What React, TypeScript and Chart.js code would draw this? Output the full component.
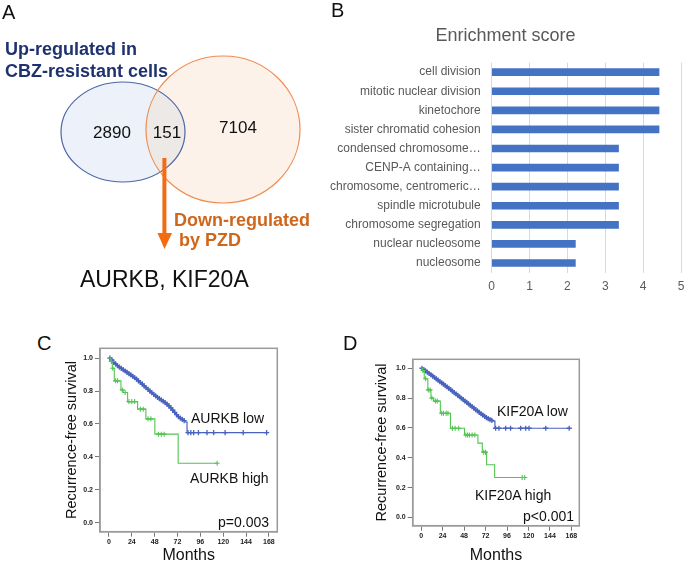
import React, { useEffect, useRef } from "react";
import { Chart, registerables } from "chart.js";
Chart.register(...registerables);

const FONT = '"Liberation Sans", Arial, Helvetica, sans-serif';
Chart.defaults.font.family = FONT;

// ---------- Panel A data ----------
const vennCounts = [2890, 151, 7104]; // left only, overlap, right only
const vennHeader = ["Up-regulated in", "CBZ-resistant cells"];
const arrowLabel = ["Down-regulated", "by PZD"];
const geneResult = "AURKB, KIF20A";

// ---------- Panel B data ----------
const goTerms = [
  "cell division",
  "mitotic nuclear division",
  "kinetochore",
  "sister chromatid cohesion",
  "condensed chromosome…",
  "CENP-A containing…",
  "chromosome, centromeric…",
  "spindle microtubule",
  "chromosome segregation",
  "nuclear nucleosome",
  "nucleosome",
];
const enrichmentScores = [4.42, 4.42, 4.42, 4.42, 3.35, 3.35, 3.35, 3.35, 3.35, 2.21, 2.21];
const enrichmentTicks = [0, 1, 2, 3, 4, 5];

// ---------- Panels C / D data ----------
const kmMonthTicks = [0, 24, 48, 72, 96, 120, 144, 168];
const kmSurvTicks = [0, 0.2, 0.4, 0.6, 0.8, 1.0];

const aurkbLowMonths = [0, 2, 4, 6, 8, 10, 12, 14, 16, 18, 20, 22, 24, 26, 28, 30, 32, 34, 36, 38, 40, 42, 44, 46, 48, 50, 52, 54, 56, 58, 60, 62, 64, 66, 68, 70, 72, 74, 76, 78, 80, 82];
const aurkbLowSurv = [1.0, 0.99, 0.975, 0.965, 0.955, 0.946, 0.938, 0.93, 0.922, 0.914, 0.906, 0.898, 0.89, 0.881, 0.872, 0.862, 0.852, 0.842, 0.832, 0.821, 0.81, 0.8, 0.79, 0.78, 0.771, 0.762, 0.754, 0.746, 0.738, 0.73, 0.72, 0.71, 0.698, 0.684, 0.67, 0.657, 0.645, 0.636, 0.628, 0.62, 0.612, 0.547];
const aurkbLowCensor = [1, 3, 5, 7, 9, 11, 13, 15, 17, 19, 21, 23, 25, 27, 29, 31, 33, 35, 37, 39, 41, 43, 45, 47, 49, 51, 53, 55, 57, 59, 61, 63, 65, 67, 69, 71, 73, 75, 77, 79, 83, 86, 89, 94, 103, 110, 122, 141, 165.6];

const aurkbHighMonths = [0, 2, 3.5, 5.6, 12.6, 15, 19.6, 30.1, 38.8, 48.2, 72.7];
const aurkbHighSurv = [1.0, 0.98, 0.939, 0.862, 0.807, 0.791, 0.736, 0.69, 0.631, 0.538, 0.361];
const aurkbHighCensor = [2.5, 4, 7, 9, 14, 17, 21, 24, 27, 33, 36, 41, 44, 52, 55, 58, 113.6];

const kif20aLowMonths = [0, 2, 4, 6, 8, 10, 12, 14, 16, 18, 20, 22, 24, 26, 28, 30, 32, 34, 36, 38, 40, 42, 44, 46, 48, 50, 52, 54, 56, 58, 60, 62, 64, 66, 68, 70, 72, 74, 76, 78, 80, 82.5];
const kif20aLowSurv = [1.0, 0.99, 0.982, 0.974, 0.965, 0.956, 0.947, 0.938, 0.929, 0.92, 0.911, 0.902, 0.893, 0.884, 0.875, 0.866, 0.856, 0.847, 0.837, 0.828, 0.818, 0.809, 0.799, 0.79, 0.78, 0.771, 0.761, 0.752, 0.742, 0.733, 0.723, 0.714, 0.704, 0.695, 0.686, 0.677, 0.669, 0.662, 0.656, 0.651, 0.646, 0.598];
const kif20aLowCensor = [1, 3, 5, 7, 9, 11, 13, 15, 17, 19, 21, 23, 25, 27, 29, 31, 33, 35, 37, 39, 41, 43, 45, 47, 49, 51, 53, 55, 57, 59, 61, 63, 65, 67, 69, 71, 73, 75, 77, 79, 83.3, 87, 94.5, 100, 111.3, 116.9, 120.6, 139.3, 165.5];

const kif20aHighMonths = [0, 1.5, 3.5, 7.5, 11, 14, 21.5, 32.8, 48.5, 63.5, 68.4, 73.2, 82.2];
const kif20aHighSurv = [1.0, 0.985, 0.93, 0.855, 0.8, 0.78, 0.698, 0.598, 0.553, 0.498, 0.438, 0.353, 0.268];
const kif20aHighCensor = [2, 5, 8, 10, 12, 16, 18, 23, 25, 28, 30, 35, 38, 42, 50, 52, 54, 57, 60, 70, 72, 113, 115.8];

// ---------- helpers ----------
function survAt(times: number[], surv: number[], t: number) {
  let v = surv[0];
  for (let i = 0; i < times.length; i++) if (times[i] <= t) v = surv[i];
  return v;
}
function curvePoints(times: number[], surv: number[], censor: number[]) {
  const pts = times.map((t, i) => ({ x: t, y: surv[i] }));
  const last = censor[censor.length - 1];
  if (last > times[times.length - 1]) pts.push({ x: last, y: surv[surv.length - 1] });
  return pts;
}
function censorPoints(times: number[], surv: number[], censor: number[]) {
  return censor.map((t) => ({ x: t, y: survAt(times, surv, t) }));
}

function ChartBox(props: { left: number; top: number; width: number; height: number; make: () => any }) {
  const ref = useRef<HTMLCanvasElement>(null);
  useEffect(() => {
    const chart = new Chart(ref.current as HTMLCanvasElement, props.make());
    return () => chart.destroy();
  }, []);
  const { left, top, width, height } = props;
  return (
    <div style={{ position: "absolute", left, top, width, height }}>
      <canvas ref={ref} width={width} height={height} style={{ width, height, display: "block" }} />
    </div>
  );
}

function Txt(props: { x: number; cy: number; size: number; color?: string; bold?: boolean; children: any }) {
  const { x, cy, size, color, bold } = props;
  return (
    <div
      style={{
        position: "absolute",
        left: x,
        top: cy - 0.59 * size,
        fontSize: size,
        lineHeight: `${size * 1.2}px`,
        fontWeight: bold ? 700 : 400,
        color: color || "#111",
        whiteSpace: "nowrap",
        fontFamily: FONT,
      }}
    >
      {props.children}
    </div>
  );
}

// ---------- Panel A (Venn) ----------
const vennPlugin = {
  id: "venn",
  afterDraw(chart: any) {
    const { ctx, scales } = chart;
    const sx = scales.x, sy = scales.y;
    const px = (v: number) => sx.getPixelForValue(v);
    const py = (v: number) => sy.getPixelForValue(v);
    const L = { cx: 123, cy: 132, rx: 62, ry: 50 };
    const R = { cx: 223, cy: 129.5, rx: 77, ry: 73.5 };
    const path = (e: any) => {
      ctx.beginPath();
      ctx.ellipse(px(e.cx), py(e.cy), Math.abs(px(e.cx + e.rx) - px(e.cx)), Math.abs(py(e.cy + e.ry) - py(e.cy)), 0, 0, Math.PI * 2);
    };
    ctx.save();
    path(L); ctx.fillStyle = "#edf2fa"; ctx.fill();
    path(R); ctx.fillStyle = "#fdf2ea"; ctx.fill();
    ctx.save(); path(L); ctx.clip(); path(R); ctx.fillStyle = "#ece9e6"; ctx.fill(); ctx.restore();
    ctx.lineWidth = 1.2;
    path(L); ctx.strokeStyle = "#4a66a3"; ctx.stroke();
    path(R); ctx.strokeStyle = "#f08c50"; ctx.stroke();

    // counts
    ctx.fillStyle = "#111";
    ctx.font = `17px ${FONT}`;
    ctx.textAlign = "center";
    ctx.textBaseline = "middle";
    const pos = [[112, 133], [167, 133], [238, 128]];
    vennCounts.forEach((c, i) => ctx.fillText(String(c), px(pos[i][0]), py(pos[i][1])));

    // arrow
    ctx.fillStyle = "#f36c12";
    ctx.fillRect(px(162.4), py(158), px(166.4) - px(162.4), py(234) - py(158));
    ctx.beginPath();
    ctx.moveTo(px(157.5), py(233));
    ctx.lineTo(px(172), py(233));
    ctx.lineTo(px(164.5), py(249));
    ctx.closePath();
    ctx.fill();
    ctx.restore();
  },
};

function makeVenn() {
  return {
    type: "scatter",
    data: { datasets: [{ data: [] as any[] }] },
    options: {
      animation: false,
      responsive: false,
      events: [],
      layout: { padding: 0 },
      plugins: { legend: { display: false }, tooltip: { enabled: false } },
      scales: {
        x: { display: false, min: 0, max: 330 },
        y: { display: false, min: 0, max: 300, reverse: true },
      },
    },
    plugins: [vennPlugin],
  };
}

// ---------- Panel B ----------
function makeBars() {
  return {
    type: "bar",
    data: {
      labels: goTerms,
      datasets: [{ data: enrichmentScores, backgroundColor: "#4472c4", barThickness: 7 }],
    },
    options: {
      indexAxis: "y",
      animation: false,
      responsive: false,
      events: [],
      layout: { padding: { left: 0, right: 22, top: 0, bottom: 0 } },
      plugins: {
        legend: { display: false },
        tooltip: { enabled: false },
        title: {
          display: true,
          text: "Enrichment score",
          color: "#595959",
          font: { size: 18, weight: "normal" },
          padding: { top: 5, bottom: 16 },
        },
      },
      scales: {
        x: {
          min: 0,
          max: 5,
          afterBuildTicks: (s: any) => { s.ticks = enrichmentTicks.map((v) => ({ value: v })); },
          ticks: { color: "#595959", font: { size: 12 }, padding: 7 },
          grid: { color: "#d9d9d9", drawTicks: false },
          border: { display: false },
          afterFit: (s: any) => { s.height = 27.45; },
        },
        y: {
          ticks: { color: "#595959", font: { size: 12 }, padding: 11, autoSkip: false },
          grid: { display: false, drawTicks: false },
          border: { display: false },
          afterFit: (s: any) => { s.width = 161.7; },
        },
      },
    },
  };
}

// ---------- Panels C / D ----------
const framePlugin = {
  id: "frame",
  afterDraw(chart: any) {
    const { ctx, chartArea } = chart;
    ctx.save();
    ctx.strokeStyle = "#9a9a9a";
    ctx.lineWidth = 1.5;
    ctx.strokeRect(chartArea.left, chartArea.top, chartArea.right - chartArea.left, chartArea.bottom - chartArea.top);
    ctx.restore();
  },
};

function makeKM(o: {
  lowT: number[]; lowS: number[]; lowC: number[];
  highT: number[]; highS: number[]; highC: number[];
  yWidth: number; xHeight: number; pad: any;
}) {
  const blue = "#4862bd";
  const green = "#52c452";
  return {
    type: "line",
    data: {
      datasets: [
        { data: curvePoints(o.highT, o.highS, o.highC), stepped: "before", borderColor: green, borderWidth: 1.1, pointRadius: 0, fill: false },
        { data: censorPoints(o.highT, o.highS, o.highC), showLine: false, pointStyle: "cross", pointRadius: 2.5, borderColor: green, borderWidth: 1.1 },
        { data: curvePoints(o.lowT, o.lowS, o.lowC), stepped: "before", borderColor: blue, borderWidth: 1.2, pointRadius: 0, fill: false },
        { data: censorPoints(o.lowT, o.lowS, o.lowC), showLine: false, pointStyle: "cross", pointRadius: 2.6, borderColor: blue, borderWidth: 1.3 },
      ],
    },
    options: {
      animation: false,
      responsive: false,
      events: [],
      layout: { padding: o.pad },
      plugins: { legend: { display: false }, tooltip: { enabled: false } },
      scales: {
        x: {
          type: "linear",
          min: -9.4,
          max: 176.8,
          afterBuildTicks: (s: any) => { s.ticks = kmMonthTicks.map((v) => ({ value: v })); },
          ticks: { color: "#222", font: { size: 7, weight: "bold" }, padding: 1, maxRotation: 0, autoSkip: false },
          grid: { drawOnChartArea: false, drawTicks: true, tickLength: 5, color: "#777" },
          border: { color: "#9a9a9a", width: 1.5 },
          title: { display: true, text: "Months", color: "#111", font: { size: 16, lineHeight: 1 }, padding: 0 },
          afterFit: (s: any) => { s.height = o.xHeight; },
        },
        y: {
          type: "linear",
          min: -0.055,
          max: 1.06,
          afterBuildTicks: (s: any) => { s.ticks = kmSurvTicks.map((v) => ({ value: v })); },
          ticks: { color: "#222", font: { size: 7, weight: "bold" }, padding: 2, callback: (v: any) => Number(v).toFixed(1) },
          grid: { drawOnChartArea: false, drawTicks: true, tickLength: 5, color: "#777" },
          border: { color: "#9a9a9a", width: 1.5 },
          title: { display: true, text: "Recurrence-free survival", color: "#111", font: { size: 14.5 }, padding: { top: 3, bottom: 0 } },
          afterFit: (s: any) => { s.width = o.yWidth; },
        },
      },
    },
    plugins: [framePlugin],
  };
}

export default function App() {
  return (
    <div
      style={{
        position: "fixed",
        left: 0,
        top: 0,
        width: 685,
        height: 564,
        overflow: "hidden",
        background: "#fff",
        fontFamily: FONT,
      }}
    >
      {/* Panel A */}
      <ChartBox left={0} top={0} width={330} height={300} make={makeVenn} />
      <Txt x={2} cy={11.5} size={20}>A</Txt>
      <Txt x={5} cy={50} size={18} bold color="#1f3270">{vennHeader[0]}</Txt>
      <Txt x={5} cy={72} size={18} bold color="#1f3270">{vennHeader[1]}</Txt>
      <Txt x={174} cy={221} size={18} bold color="#d0661c">{arrowLabel[0]}</Txt>
      <Txt x={179} cy={241} size={18} bold color="#d0661c">{arrowLabel[1]}</Txt>
      <Txt x={80} cy={279.5} size={23}>{geneResult}</Txt>

      {/* Panel B */}
      <ChartBox left={330} top={20} width={373} height={280} make={makeBars} />
      <Txt x={331} cy={10} size={20}>B</Txt>

      {/* Panel C */}
      <ChartBox
        left={60}
        top={335}
        width={225}
        height={229}
        make={() =>
          makeKM({
            lowT: aurkbLowMonths, lowS: aurkbLowSurv, lowC: aurkbLowCensor,
            highT: aurkbHighMonths, highS: aurkbHighSurv, highC: aurkbHighCensor,
            yWidth: 40, xHeight: 32.3, pad: { left: 0, top: 13.3, right: 7.7, bottom: 0 },
          })
        }
      />
      <Txt x={37} cy={343} size={20}>C</Txt>
      <Txt x={191} cy={418} size={14}>AURKB low</Txt>
      <Txt x={190} cy={478} size={14}>AURKB high</Txt>
      <Txt x={218} cy={522} size={14}>p=0.003</Txt>

      {/* Panel D */}
      <ChartBox
        left={370}
        top={345}
        width={215}
        height={219}
        make={() =>
          makeKM({
            lowT: kif20aLowMonths, lowS: kif20aLowSurv, lowC: kif20aLowCensor,
            highT: kif20aHighMonths, highS: kif20aHighSurv, highC: kif20aHighCensor,
            yWidth: 42.7, xHeight: 38.3, pad: { left: 0, top: 14.3, right: 5.7, bottom: 0 },
          })
        }
      />
      <Txt x={343} cy={343} size={20}>D</Txt>
      <Txt x={497} cy={411.7} size={14}>KIF20A low</Txt>
      <Txt x={475} cy={495.7} size={14}>KIF20A high</Txt>
      <Txt x={523} cy={516.7} size={14}>p&lt;0.001</Txt>
    </div>
  );
}
